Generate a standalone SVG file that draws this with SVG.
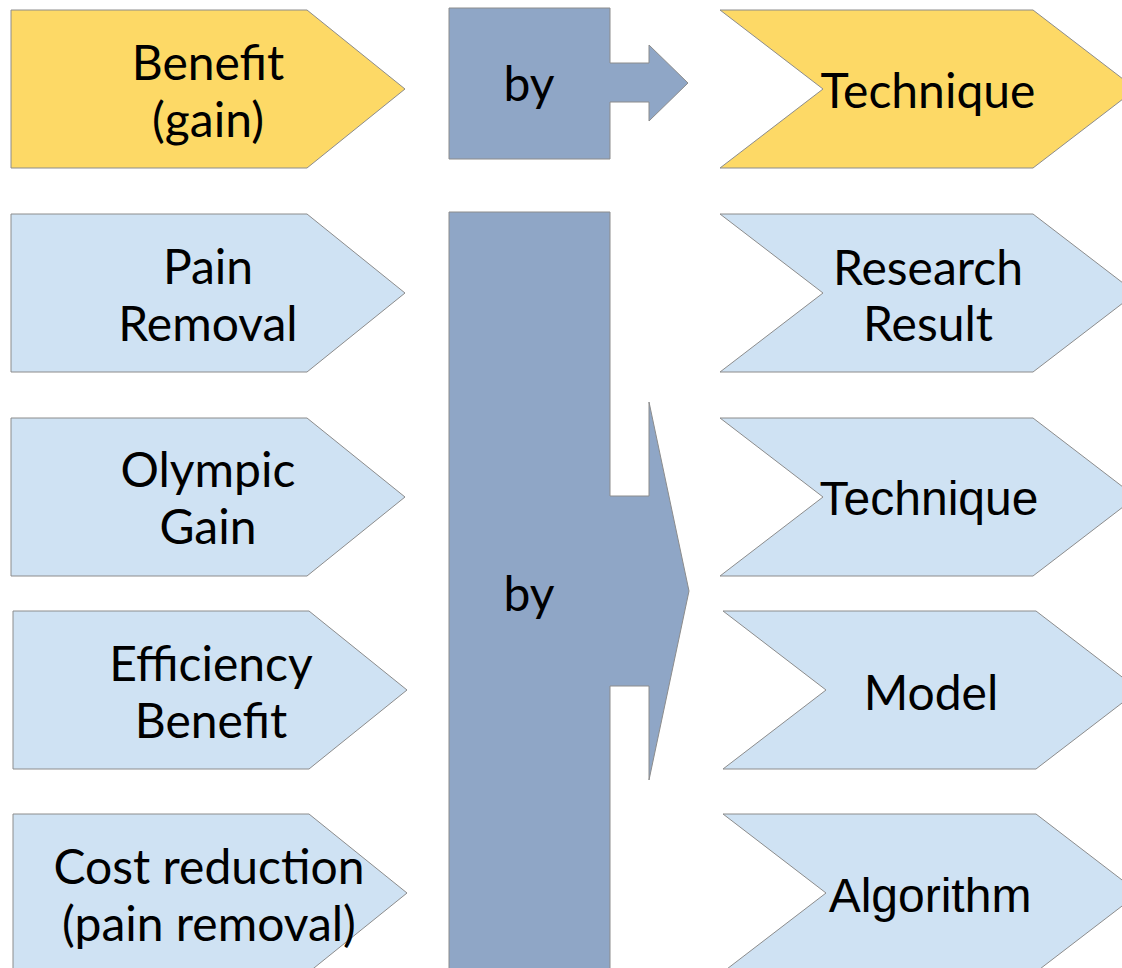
<svg xmlns="http://www.w3.org/2000/svg" width="1122" height="968" viewBox="0 0 1122 968">
<style>
.y{fill:#fdd966;stroke:#8c8c8c;stroke-width:1}
.b{fill:#cfe2f3;stroke:#8c8c8c;stroke-width:1}
.s{fill:#8fa6c6;stroke:#8c8c8c;stroke-width:1}
.t{font-family:Lato,"Liberation Sans",sans-serif;font-size:48px;fill:#000;text-anchor:middle}
.r{font-family:Lato,"Liberation Sans",sans-serif;font-size:48px;fill:#000;text-anchor:middle}
.a{font-family:"Liberation Sans",Arial,sans-serif;font-size:48px;fill:#000;text-anchor:middle}
</style>
<rect width="1122" height="968" fill="#fff"/>
<g id="left-benefit"><polygon class="y" points="11,10 307,10 405,89 307,168 11,168"/><text class="t" x="208" y="80">Benefit</text><text class="t" x="208" y="137">(gain)</text></g>
<g id="left-pain"><polygon class="b" points="11,214 307,214 405,293 307,372 11,372"/><text class="t" x="208" y="284">Pain</text><text class="t" x="208" y="341">Removal</text></g>
<g id="left-olympic"><polygon class="b" points="11,418 307,418 405,497 307,576 11,576"/><text class="t" x="208" y="487">Olympic</text><text class="t" x="208" y="544">Gain</text></g>
<g id="left-efficiency"><polygon class="b" points="13,611 309,611 407,690 309,769 13,769"/><text class="t" x="211" y="681">Efficiency</text><text class="t" x="211" y="738">Benefit</text></g>
<g id="left-cost"><polygon class="b" points="13,814 309,814 407,893 309,972 13,972"/><text class="t" x="209" y="884">Cost reduction</text><text class="t" x="209" y="941">(pain removal)</text></g>
<g id="by-top"><polygon class="s" points="449,8 610,8 610,63 649,63 649,45 688,83 649,121 649,102 610,102 610,159 449,159"/><text class="t" x="529" y="101">by</text></g>
<g id="by-main"><polygon class="s" points="449,212 610,212 610,496 649,496 649,402 689,591 649,780 649,686 610,686 610,975 449,975"/><text class="t" x="529" y="611">by</text></g>
<g id="right-technique-1"><polygon class="y" points="720,10 1033,10 1136,89 1033,168 720,168 823,89"/><text class="r" x="928" y="108">Technique</text></g>
<g id="right-research"><polygon class="b" points="720,214 1033,214 1136,293 1033,372 720,372 823,293"/><text class="r" x="928" y="285">Research</text><text class="r" x="928" y="341">Result</text></g>
<g id="right-technique-2"><polygon class="b" points="720,418 1033,418 1136,497 1033,576 720,576 823,497"/><text class="a" x="929" y="515">Technique</text></g>
<g id="right-model"><polygon class="b" points="723,611 1036,611 1139,690 1036,769 723,769 826,690"/><text class="r" x="931" y="710">Model</text></g>
<g id="right-algorithm"><polygon class="b" points="723,814 1036,814 1139,893 1036,972 723,972 826,893"/><text class="a" x="930" y="912">Algorithm</text></g>
<g id="connectors"></g>
</svg>
